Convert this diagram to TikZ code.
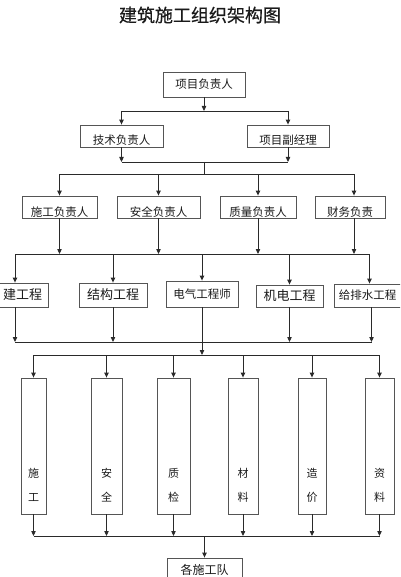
\documentclass[tikz,border=0pt]{standalone}
\usepackage{fontspec}
\setmainfont{Noto Sans CJK SC}
\newfontfamily\titlefont{Noto Sans CJK SC}[FakeBold=0.6]
\usetikzlibrary{arrows.meta, calc}
\definecolor{ln}{HTML}{2A2A2A}
\definecolor{bx}{HTML}{555555}
\definecolor{tx}{HTML}{1A1A1A}

\newcommand\vpair[2]{\begin{tabular}[b]{@{}c@{}}#1\\[10pt]#2\end{tabular}}

\tikzset{
  box/.style={draw=bx, line width=0.8pt, inner sep=0pt, minimum height=22pt,
    text=tx, font=\fontsize{11.5pt}{14pt}\selectfont},
  big/.style={font=\fontsize{13pt}{15pt}\selectfont},
  lvtwo/.style={text height=19.4pt, text depth=2.6pt},
  lvthree/.style={text height=20.4pt, text depth=1.6pt},
  colbox/.style={draw=bx, line width=0.8pt, inner sep=0pt, text=tx,
    font=\fontsize{11pt}{14pt}\selectfont, text height=123.2pt, text depth=12.8pt},
  bus/.style={draw=ln, line width=0.9pt},
  arr/.style={bus, -{Triangle[length=5pt,width=4.4pt]}}
}

\begin{document}
\begin{tikzpicture}[x=1pt, y=-1pt]
  \useasboundingbox (0,0) rectangle (400,577);
  \clip (0,0) rectangle (400,577);

  \node[text=tx, font=\titlefont\fontsize{18pt}{20pt}\selectfont] (title) at (200,15) {建筑施工组织架构图};

  % levels of management
  \node[box, minimum width=82pt, minimum height=25pt] (pm) at (204,84.5) {项目负责人};
  \node[box, lvtwo, minimum width=83pt] (tech) at (121.5,136) {技术负责人};
  \node[box, lvtwo, minimum width=82pt] (vice) at (288,136) {项目副经理};

  \node[box, lvthree, minimum width=75pt] (sgfz) at (59.5,207) {施工负责人};
  \node[box, lvthree, minimum width=83pt] (aqfz) at (158.5,207) {安全负责人};
  \node[box, lvthree, minimum width=76pt] (zlfz) at (258,207) {质量负责人};
  \node[box, lvthree, minimum width=70pt] (cwfz) at (350,207) {财务负责};

  \node[box, big, minimum width=66pt, minimum height=24pt, text width=54pt, align=right] (tj) at (15,295) {建工程};
  \node[box, big, minimum width=68pt, minimum height=24pt] (jg) at (113,295) {结构工程};
  \node[box, minimum width=72pt, minimum height=26pt] (dq) at (202,294) {电气工程师};
  \node[box, big, minimum width=67pt, minimum height=22pt] (jd) at (289.5,296) {机电工程};
  \node[box, minimum width=67pt, minimum height=23pt] (gps) at (367.5,295.5) {给排水工程};

  % staff columns
  \foreach \n/\x/\w/\a/\b in {c1/33.5/25pt/施/工, c2/106.5/31pt/安/全, c3/173.5/33pt/质/检,
                              c4/243/30pt/材/料, c5/312/28pt/造/价, c6/379.5/29pt/资/料}
    \node[colbox, minimum width=\w] (\n) at (\x,446) {\vpair{\a}{\b}};

  \node[box, font=\fontsize{12pt}{14pt}\selectfont, minimum width=75pt, minimum height=24pt] (team) at (204.5,570) {各施工队};

  % bus lines
  \coordinate (b1) at (204,111);
  \coordinate (b2) at (204,162);
  \coordinate (b3) at (204,174);
  \coordinate (b4) at (204,254);
  \coordinate (b5) at (204,342);
  \coordinate (b6) at (204,355);
  \coordinate (b7) at (204,536);

  \draw[arr] (pm.south) -- (b1);
  \draw[bus] (tech.north |- b1) -- (vice.north |- b1);
  \foreach \n in {tech,vice} {
    \draw[arr] (\n.north |- b1) -- (\n.north);
    \draw[arr] (\n.south) -- (\n.south |- b2);
  }
  \draw[bus] (tech.south |- b2) -- (vice.south |- b2);
  \draw[bus] (b2) -- (b3);

  \draw[bus] (sgfz.north |- b3) -- ([xshift=4pt]cwfz.north |- b3);
  \foreach \n in {sgfz,aqfz,zlfz} {
    \draw[arr] (\n.north |- b3) -- (\n.north);
    \draw[arr] (\n.south) -- (\n.south |- b4);
  }
  \draw[arr] ([xshift=4pt]cwfz.north |- b3) -- ([xshift=4pt]cwfz.north);
  \draw[arr] ([xshift=4pt]cwfz.south) -- ([xshift=4pt]cwfz.south |- b4);

  \draw[bus] (tj.north |- b4) -- ([xshift=2pt]gps.north |- b4);
  \foreach \n in {tj,jg,dq,jd}
    \draw[arr] (\n.north |- b4) -- (\n.north);
  \draw[arr] ([xshift=2pt]gps.north |- b4) -- ([xshift=2pt]gps.north);

  \draw[bus] (tj.south |- b5) -- ([xshift=4pt]gps.south |- b5);
  \foreach \n in {tj,jg,jd}
    \draw[arr] (\n.south) -- (\n.south |- b5);
  \draw[arr] ([xshift=4pt]gps.south) -- ([xshift=4pt]gps.south |- b5);
  \draw[arr] (dq.south) -- (dq.south |- b6);

  \draw[bus] (c1.north |- b6) -- (c6.north |- b6);
  \draw[bus] (c1.south |- b7) -- (c6.south |- b7);
  \foreach \n in {c1,c2,c3,c4,c5,c6} {
    \draw[arr] (\n.north |- b6) -- (\n.north);
    \draw[arr] (\n.south) -- (\n.south |- b7);
  }
  \draw[arr] (team.north |- b7) -- (team.north);
\end{tikzpicture}
\end{document}
